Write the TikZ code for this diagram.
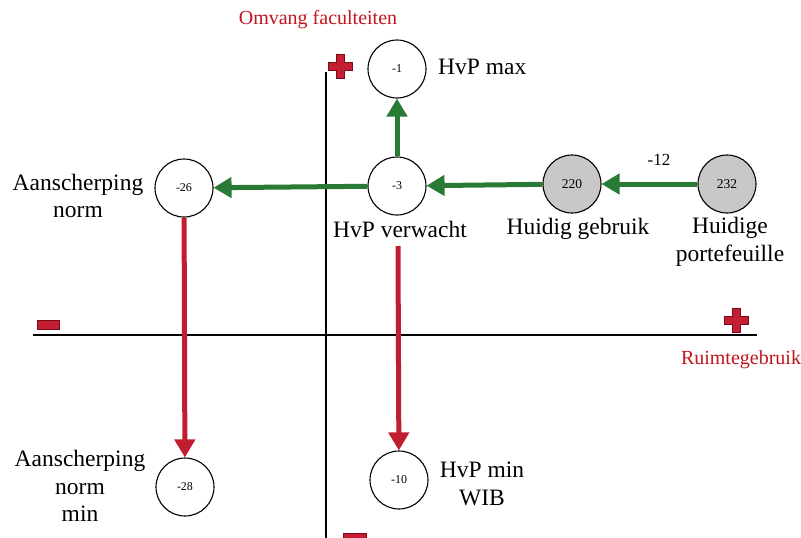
\documentclass[tikz,border=0pt]{standalone}
\usepackage{fontspec}
\setmainfont{Liberation Serif}
\usetikzlibrary{arrows.meta,shapes.geometric}
\definecolor{arrgreen}{RGB}{40,122,52}
\definecolor{arrred}{RGB}{192,30,48}
\definecolor{txtred}{RGB}{192,20,30}
\definecolor{signred}{RGB}{195,30,50}
\definecolor{signedge}{RGB}{120,10,25}
\definecolor{nodegray}{RGB}{200,200,200}
\begin{document}
\begin{tikzpicture}[x=1pt,y=-1pt,
 val/.style={circle, draw=black, line width=1.1pt, minimum size=58pt, inner sep=0pt, font=\fontsize{12}{14}\selectfont},
 valgray/.style={val, fill=nodegray, font=\fontsize{13.5}{15}\selectfont},
 lbl/.style={font=\fontsize{23.5}{27.5}\selectfont, align=center, inner sep=0pt},
 axlbl/.style={font=\fontsize{20}{24}\selectfont, text=txtred, inner sep=0pt},
 garrow/.style={draw=arrgreen, line width=5pt, -{Triangle[width=20pt,length=18pt]}},
 rarrow/.style={draw=arrred, line width=5pt, -{Triangle[width=20pt,length=18pt]}},
 axisline/.style={line width=1.6pt, black},
 sign/.style={fill=signred, draw=signedge, line width=0.6pt},
 plussign/.pic={\path[sign] (-4,-12) -- (4,-12) -- (4,-4) -- (12,-4) -- (12,4) -- (4,4) -- (4,12) -- (-4,12) -- (-4,4) -- (-12,4) -- (-12,-4) -- (-4,-4) -- cycle;},
 minussign/.pic={\path[sign] (-11,-4.5) rectangle (11,4.5);}
]
\useasboundingbox (0,0) rectangle (801,538);

% axes
\coordinate (xa) at (33,335);
\coordinate (xb) at (757,335);
\coordinate (ya) at (326,72);
\coordinate (yb) at (326,538);
\draw[axisline] (xa) -- (xb);
\draw[axisline] (ya) -- (yb);

% signs
\pic at (340,66) {plussign};
\pic at (736,320) {plussign};
\pic at (48,325) {minussign};
\path[sign] (343,533.5) rectangle (366,540);

% axis labels
\node[axlbl] (yl) at (318,20) {Omvang faculteiten};
\node[axlbl] (xl) at (741,360) {Ruimtegebruik};

% value nodes
\node[val] (n1) at (397,69) {-1};
\node[val] (n3) at (397,186) {-3};
\node[val] (n26) at (184,188) {-26};
\node[valgray] (n220) at (572,184) {220};
\node[valgray] (n232) at (727,184) {232};
\node[val] (n28) at (185,487) {-28};
\node[val] (n10) at (399,480) {-10};

% labels
\node[lbl, anchor=west] (lmax) at (438,67) {HvP max};
\node[lbl] (lverw) at (400,229) {HvP verwacht};
\node[lbl] (lgebr) at (578,229) {Huidig gebruik};
\node[lbl] (lport) at (730,242) {Huidige\\portefeuille};
\node[lbl] (lnorm) at (78,196) {Aanscherping\\norm};
\node[lbl] (lnormmin) at (80,486) {Aanscherping\\norm\\min};
\node[lbl] (lwib) at (482,484) {HvP min\\WIB};
\node[font=\fontsize{17}{20}\selectfont, inner sep=0pt] (d12) at (659,160) {-12};

% arrows
\draw[garrow] (n3) -- (n1);
\draw[garrow] (n3) -- (n26);
\draw[garrow] (n220) -- (n3);
\draw[garrow] (n232) -- (n220);
\draw[rarrow] (n26) -- (n28);
\coordinate (vs) at (398,246);
\draw[rarrow] (vs) -- (n10);
\end{tikzpicture}
\end{document}
